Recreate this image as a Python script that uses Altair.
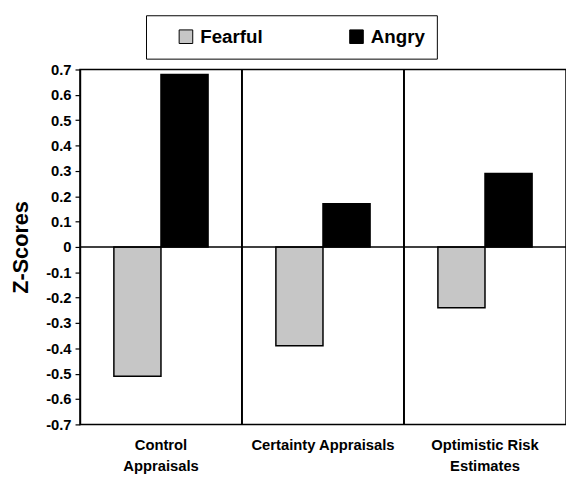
import altair as alt
import pandas as pd

categories = ["Control\nAppraisals", "Certainty Appraisals", "Optimistic Risk\nEstimates"]
series = ["Fearful", "Angry"]
fearful = [-0.51, -0.39, -0.24]
angry = [0.68, 0.17, 0.29]
y_ticks = [0.7, 0.6, 0.5, 0.4, 0.3, 0.2, 0.1, 0, -0.1, -0.2, -0.3, -0.4, -0.5, -0.6, -0.7]

rows = []
for c, f, a in zip(categories, fearful, angry):
    rows.append({"cat": c, "series": "Fearful", "value": f})
    rows.append({"cat": c, "series": "Angry", "value": a})
df = pd.DataFrame(rows)
div_df = pd.DataFrame({"cat": categories[1:]})

FONT = "Liberation Sans"

xscale = alt.Scale(domain=categories, paddingInner=0, paddingOuter=0)
yscale = alt.Scale(domain=[-0.7, 0.7], nice=False, zero=False)

xaxis = alt.Axis(title=None, ticks=False, domain=False, labelAngle=0,
                 labelFont=FONT, labelFontWeight="bold", labelFontSize=15,
                 labelColor="black", labelPadding=13, labelLineHeight=22,
                 labelBaseline="top",
                 labelExpr="split(datum.label, '\\n')")
yaxis = alt.Axis(title="Z-Scores", values=y_ticks, grid=False,
                 labelOverlap=False, labelSeparation=0,
                 labelFont=FONT, labelFontWeight="bold", labelFontSize=15,
                 labelColor="black", labelPadding=4,
                 labelExpr="datum.value == 0 ? '0' : replace(format(datum.value, '.1f'), '\u2212', '-')",
                 tickColor="black", tickSize=5, tickWidth=1.2,
                 domainColor="black", domainWidth=1.5,
                 titleFont=FONT, titleFontWeight="bold", titleFontSize=22,
                 titleColor="black", titleX=-60, titleY=180,
                 titleBaseline="middle")

bars = alt.Chart(df).mark_bar(stroke="black", strokeWidth=1.5).encode(
    x=alt.X("cat:N", scale=xscale, sort=categories, axis=xaxis),
    xOffset=alt.XOffset("series:N", sort=series,
                        scale=alt.Scale(domain=series, paddingInner=0, paddingOuter=0.72)),
    y=alt.Y("value:Q", scale=yscale, axis=yaxis),
    color=alt.Color("series:N", sort=series,
                    scale=alt.Scale(domain=series, range=["#c6c6c6", "#000000"]),
                    legend=alt.Legend(title=None, orient="none", direction="horizontal",
                                      legendX=67, legendY=-55,
                                      strokeColor="black", padding=12,
                                      symbolType="square", symbolSize=190,
                                      symbolOffset=19,
                                      symbolStrokeColor="black", symbolStrokeWidth=1,
                                      labelFont=FONT, labelFontWeight="bold",
                                      labelFontSize=19, labelColor="black",
                                      labelOffset=5, columnPadding=66)),
)

zero = alt.Chart(pd.DataFrame({"value": [0]})).mark_rule(color="black", strokeWidth=1.5).encode(
    y=alt.Y("value:Q", scale=yscale, axis=yaxis)
)

dividers = alt.Chart(div_df).mark_rule(color="black", strokeWidth=2).encode(
    x=alt.X("cat:N", scale=xscale, sort=categories, bandPosition=0, axis=xaxis)
)

chart = alt.layer(bars, zero, dividers).properties(
    width=493, height=360,
    background="white",
    autosize=alt.AutoSizeParams(type="none"),
    padding={"left": 73, "top": 59, "right": 0, "bottom": 52},
).configure_view(stroke="black", strokeWidth=1.5).configure_axis(labelOverlap=False)

chart.save("out.html", embed_options={"renderer": "svg", "actions": False})
